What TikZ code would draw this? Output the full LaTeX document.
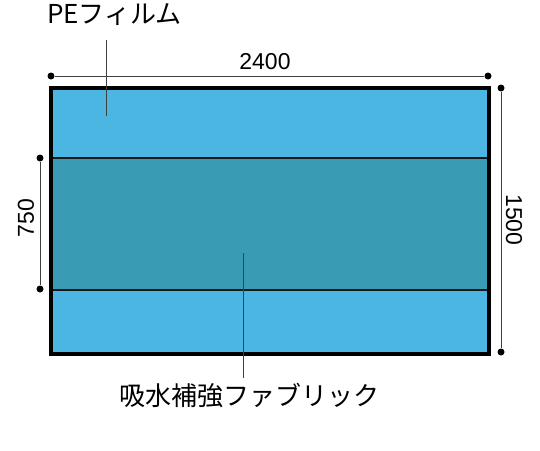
\documentclass[tikz,border=0pt]{standalone}
\usepackage{fontspec}
\setmainfont{Liberation Sans}
\newfontfamily\jpfont{Noto Sans CJK JP}
\usepackage{tikz}
\usepackage{xcolor}
\usetikzlibrary{positioning, calc}

\definecolor{filmblue}{HTML}{4BB6E2}
\definecolor{fabricteal}{HTML}{3A9BB4}

\begin{document}
\begin{tikzpicture}[x=1pt, y=-1pt,
    dimline/.style={draw=black!75, line width=0.8pt},
    dimdot/.style={circle, fill=black, inner sep=0pt, minimum size=7pt},
    leader/.style={draw=black!75, line width=0.8pt},
    dimtext/.style={font=\fontsize{23}{23}\selectfont, inner sep=0pt},
    jptext/.style={font=\jpfont\fontsize{26}{26}\selectfont, inner sep=0pt}]
\useasboundingbox (0,0) rectangle (540,450);

% Sheet: film, fabric band, film
\fill[filmblue] (51,88) rectangle (489,354);
\fill[fabricteal] (51,158) rectangle (489,290);
\draw[line width=1.6pt, black!90] (51,158) -- (489,158);
\draw[line width=1.6pt, black!90] (51,290) -- (489,290);
\draw[line width=4pt] (51,88) rectangle (489,354);

% Dimension end points
\foreach \n/\x/\y in {wl/51/76, wr/488/76, hl/501/88, hr/501/352, bl/40/158, br/40/289} {
    \node[dimdot] (\n) at (\x,\y) {};
}

% Dimension lines
\draw[dimline] (wl) -- (wr);
\draw[dimline] (hl) -- (hr);
\draw[dimline] (bl) -- (br);

\node[dimtext] (width) at (265,62) {2400};
\node[dimtext, rotate=-90] (height) at (514,220) {1500};
\node[dimtext, rotate=90] (band) at (26,218) {750};

% Labels with leaders
\node[jptext, anchor=west] (pe) at (47,15) {PEフィルム};
\coordinate (pe top) at (106,40);
\coordinate (pe end) at (106,116);
\draw[leader] (pe top) -- (pe end);

\node[jptext, anchor=west] (fabric) at (119,396) {吸水補強ファブリック};
\coordinate (fab top) at (243,253);
\coordinate (fab end) at (243,378);
\draw[leader] (fab top) -- (fab end);
\end{tikzpicture}
\end{document}
